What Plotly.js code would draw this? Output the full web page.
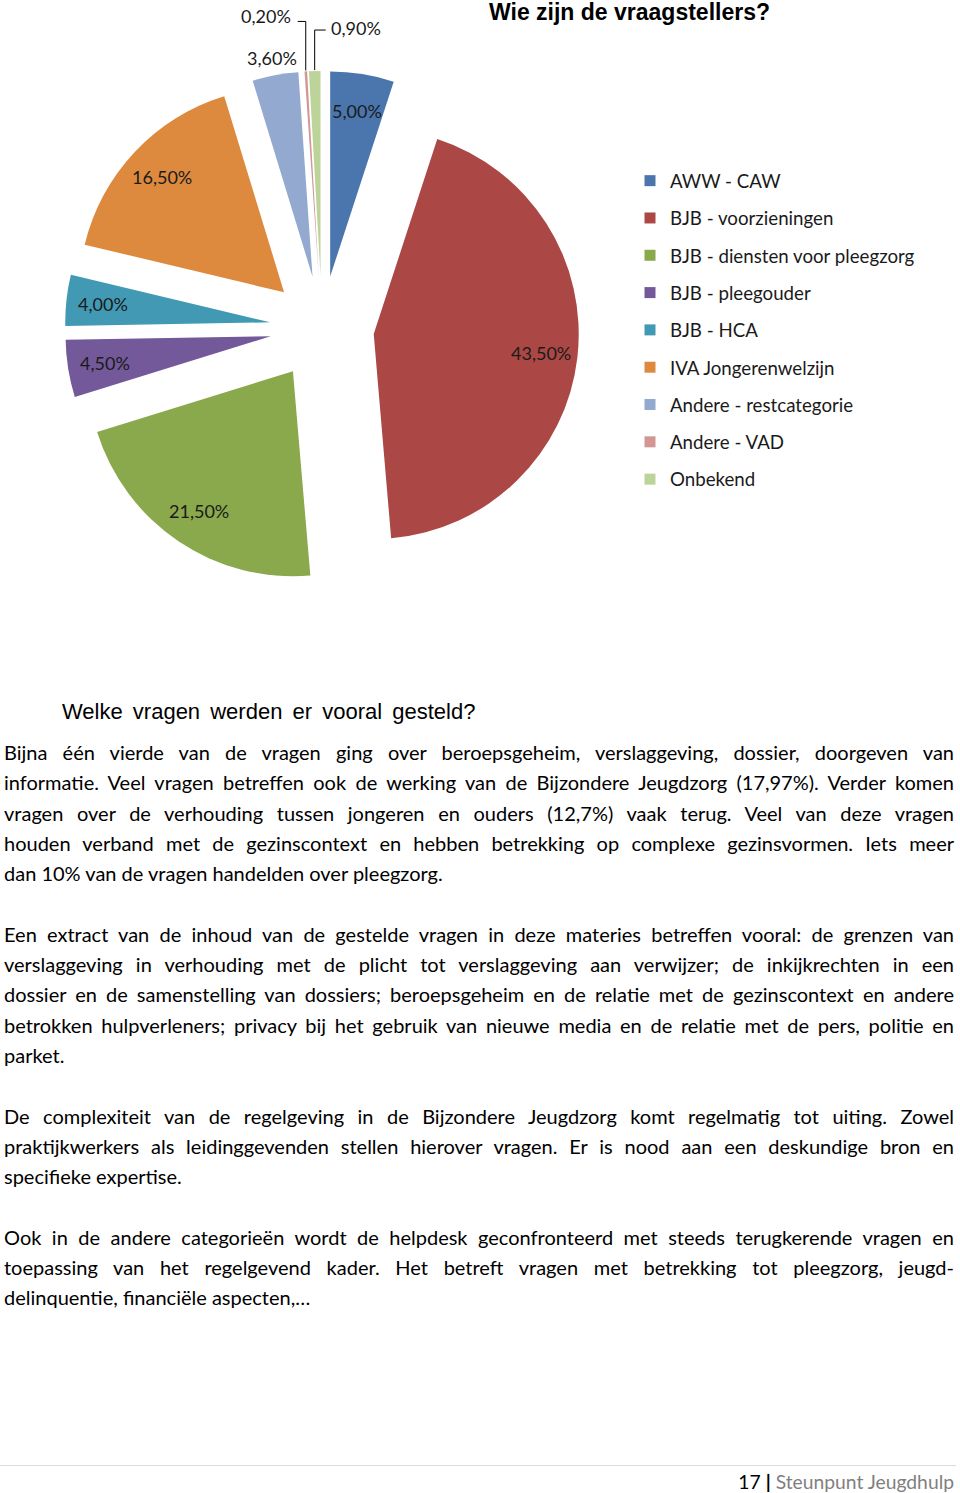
<!DOCTYPE html>
<html>
<head>
<meta charset="utf-8">
<script src="https://cdn.plot.ly/plotly-3.0.1.min.js"></script>
<style>
  html, body { margin:0; padding:0; background:#fff; width:960px; height:1493px; overflow:hidden; }
  #chart { position:absolute; left:0; top:0; width:960px; height:690px; }
  .h2 { position:absolute; left:62px; top:699px; font-family:"Liberation Sans", Arial, sans-serif; font-size:22px; word-spacing:4px; color:#000; white-space:nowrap; }
  .body { position:absolute; left:4px; width:950px; font-family:Lato, "Noto Sans", sans-serif; font-size:20px; line-height:30.3px; color:#000; }
  .body .j { display:block; white-space:nowrap; text-align:justify; text-align-last:justify; }
  .body .l { display:block; white-space:nowrap; text-align:left; }
  .body .gap { display:block; height:30.3px; }
  .footline { position:absolute; left:0; top:1465px; width:956px; height:1px; background:#dcdcdc; }
  .footer { position:absolute; right:6px; top:1470px; font-family:Lato, sans-serif; font-size:19.3px; color:#7f7f7f; white-space:nowrap; }
  .footer b { color:#000; font-weight:normal; }
</style>
</head>
<body>
<div id="chart"></div>
<div class="h2">Welke vragen werden er vooral gesteld?</div>
<div class="body" id="bodytext" style="top:737px;"></div>
<div class="footline"></div>
<div class="footer"><b>17</b> <b style="font-weight:bold">|</b> Steunpunt Jeugdhulp</div>
<script>
// ---- data ----
const categories = ["AWW - CAW", "BJB - voorzieningen", "BJB - diensten voor pleegzorg", "BJB - pleegouder", "BJB - HCA", "IVA Jongerenwelzijn", "Andere - restcategorie", "Andere - VAD", "Onbekend"];
const percentages = [5.00, 43.50, 21.50, 4.50, 4.00, 16.50, 3.60, 0.20, 0.90];
const sliceColors = ["#4a76ad", "#ab4845", "#8aa84c", "#73599a", "#4199b3", "#dd8a3f", "#93a9cf", "#d29795", "#bcd39a"];
const labelPlacement = ["in", "in", "in", "in", "in", "in", "above", "leaderLeft", "leaderRight"];
const chartTitle = "Wie zijn de vraagstellers?";

const paragraphs = [
  ["Bijna één vierde van de vragen ging over beroepsgeheim, verslaggeving, dossier, doorgeven van",
   "informatie. Veel vragen betreffen ook de werking van de Bijzondere Jeugdzorg (17,97%). Verder komen",
   "vragen over de verhouding tussen jongeren en ouders (12,7%) vaak terug. Veel van deze vragen",
   "houden verband met de gezinscontext en hebben betrekking op complexe gezinsvormen. Iets meer",
   "dan 10% van de vragen handelden over pleegzorg."],
  ["Een extract van de inhoud van de gestelde vragen in deze materies betreffen vooral: de grenzen van",
   "verslaggeving in verhouding met de plicht tot verslaggeving aan verwijzer; de inkijkrechten in een",
   "dossier en de samenstelling van dossiers; beroepsgeheim en de relatie met de gezinscontext en andere",
   "betrokken hulpverleners; privacy bij het gebruik van nieuwe media en de relatie met de pers, politie en",
   "parket."],
  ["De complexiteit van de regelgeving in de Bijzondere Jeugdzorg komt regelmatig tot uiting. Zowel",
   "praktijkwerkers als leidinggevenden stellen hierover vragen. Er is nood aan een deskundige bron en",
   "specifieke expertise."],
  ["Ook in de andere categorieën wordt de helpdesk geconfronteerd met steeds terugkerende vragen en",
   "toepassing van het regelgevend kader. Het betreft vragen met betrekking tot pleegzorg, jeugd-",
   "delinquentie, financiële aspecten,…"]
];

// ---- body text ----
(function(){
  const host = document.getElementById('bodytext');
  const MAXW = 950;
  paragraphs.forEach((p, pi) => {
    p.forEach((line, li) => {
      const s = document.createElement('span');
      s.className = (li === p.length - 1) ? 'l' : 'j';
      s.textContent = line;
      host.appendChild(s);
      const probe = document.createElement('span');
      probe.style.cssText = 'position:absolute;visibility:hidden;white-space:nowrap;';
      probe.textContent = line;
      host.appendChild(probe);
      const w = probe.getBoundingClientRect().width;
      host.removeChild(probe);
      if (w > MAXW - 4) s.style.letterSpacing = (-(w - MAXW + 6) / line.length).toFixed(3) + 'px';
    });
    if (pi < paragraphs.length - 1) { const g = document.createElement('span'); g.className = 'gap'; host.appendChild(g); }
  });
})();

// ---- geometry (style) ----
const W = 960, H = 690;
const CX = 322, CY = 328, R = 205, PULL = 0.254;
const pullPx = PULL * R;
const half = R * (1 + PULL);
const domX = [(CX - half) / W, (CX + half) / W];
const domY = [1 - (CY + half) / H, 1 - (CY - half) / H];
const fmt = v => v.toFixed(2).replace('.', ',') + '%';
const px2x = x => x / W, px2y = y => 1 - y / H;

const total = percentages.reduce((a, b) => a + b, 0);
let cum = 0;
const annotations = [], shapes = [];
const labelFont = {family: "Lato, sans-serif", size: 18, color: "#1a1a1a"};
percentages.forEach((v, i) => {
  const a0 = cum / total * 2 * Math.PI;
  cum += v;
  const a1 = cum / total * 2 * Math.PI;
  const am = (a0 + a1) / 2;
  const dx = Math.sin(am), dy = -Math.cos(am);
  const mode = labelPlacement[i];
  if (mode === "in" || mode === "above") {
    const d = mode === "in" ? pullPx + 0.82 * R : pullPx + R + 17;
    annotations.push({x: px2x(CX + d * dx), y: px2y(CY + d * dy), xref: 'paper', yref: 'paper',
      text: fmt(v), showarrow: false, font: labelFont, xanchor: 'center', yanchor: 'middle'});
  } else {
    const d = pullPx + R + 1;
    const tx = CX + d * dx, ty = CY + d * dy;
    const left = mode === "leaderLeft";
    const up = left ? 49 : 40;
    const side = left ? -8 : 11;
    shapes.push({type: 'path', xref: 'paper', yref: 'paper',
      path: `M ${px2x(tx)} ${px2y(ty)} L ${px2x(tx)} ${px2y(ty - up)} L ${px2x(tx + side)} ${px2y(ty - up)}`,
      line: {color: '#000', width: 1}});
    annotations.push({x: px2x(tx + side + (left ? -5 : 3)), y: px2y(ty - up - (left ? 5 : 2)), xref: 'paper', yref: 'paper',
      text: fmt(v), showarrow: false, font: labelFont, xanchor: left ? 'right' : 'left', yanchor: 'middle'});
  }
});

const traces = [{
  type: 'pie', values: percentages, labels: categories, sort: false, direction: 'clockwise', rotation: 0,
  marker: {colors: sliceColors, line: {width: 0}}, pull: percentages.map(() => PULL),
  textinfo: 'none', showlegend: false, domain: {x: domX, y: domY}, hoverinfo: 'label+value'
}];
categories.forEach((c, i) => {
  traces.push({type: 'scatter', mode: 'markers', x: [null], y: [null], name: c, legendgroup: 'g' + i,
    marker: {symbol: 'square', size: 11, color: sliceColors[i]}, hoverinfo: 'skip'});
});

const layout = {
  width: W, height: H, margin: {l: 0, r: 0, t: 0, b: 0},
  paper_bgcolor: '#fff', plot_bgcolor: 'rgba(0,0,0,0)',
  title: {text: chartTitle, x: 489 / W, xanchor: 'left', xref: 'paper', y: 1 - 12 / H, yanchor: 'middle', yref: 'container',
    font: {family: "Liberation Sans, Arial, sans-serif", size: 23, color: '#000', weight: 'bold'}},
  xaxis: {visible: false}, yaxis: {visible: false},
  showlegend: true,
  legend: {x: 630 / W, xanchor: 'left', y: 1 - 162 / H, yanchor: 'top', traceorder: 'grouped', tracegroupgap: 10,
    itemwidth: 30, bgcolor: 'rgba(0,0,0,0)', font: {family: "Lato, sans-serif", size: 18.7, color: '#1a1a1a'}},
  annotations: annotations, shapes: shapes
};
Plotly.newPlot('chart', traces, layout, {displayModeBar: false, staticPlot: true});
</script>
</body>
</html>
